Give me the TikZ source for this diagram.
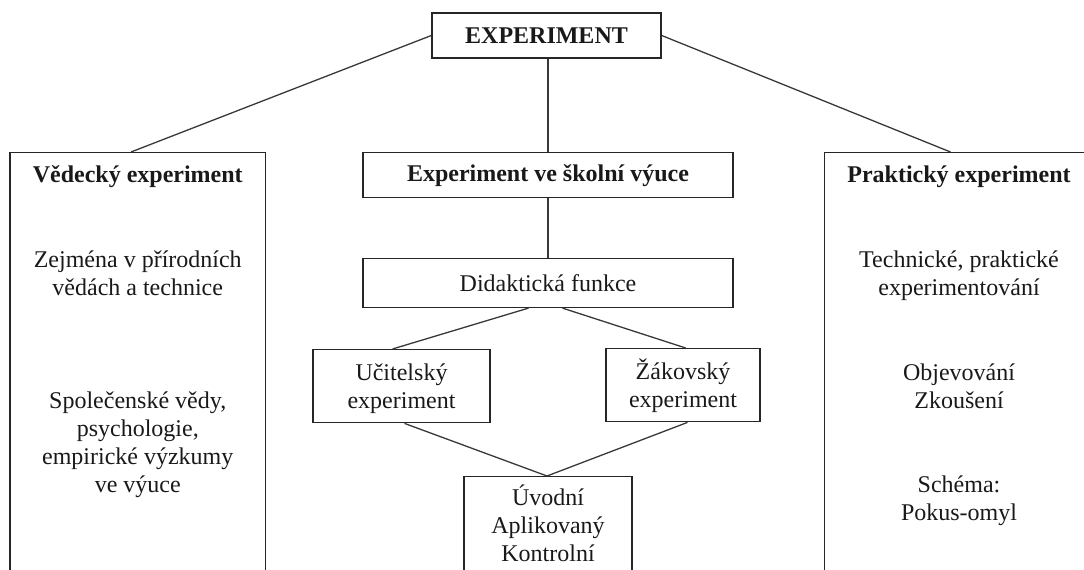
\documentclass[tikz,border=0pt]{standalone}
\usepackage{fontspec}
\setmainfont{Liberation Serif}
\begin{document}
\begin{tikzpicture}[x=1pt,y=-1pt,
  box/.style={draw=black!85, line width=1.4pt, inner sep=0pt, anchor=north, font=\fontsize{24}{28}\selectfont, text=black!90},
  hbox/.style={box, font=\fontsize{24}{28}\selectfont\bfseries},
  link/.style={draw=black!78, line width=1.3pt},
  txt/.style={anchor=base, align=center, inner sep=0pt, font=\fontsize{24}{28}\selectfont, text=black!90},
  head/.style={txt, font=\fontsize{24}{28}\selectfont\bfseries}]
\useasboundingbox (0,0) rectangle (1084,570);
\clip (0,0) rectangle (1084,570);
% boxes
\node[hbox, minimum width=229pt, minimum height=45pt] (exp) at (546.5,12.3) {EXPERIMENT};
\node[box, minimum width=255.5pt, minimum height=450pt] (ved) at (137.75,152) {};
\node[hbox, minimum width=370pt, minimum height=45pt] (sch) at (548,152) {Experiment ve školní výuce};
\node[box, minimum width=269pt, minimum height=450pt] (prak) at (959,152) {};
\node[box, minimum width=370pt, minimum height=48.7pt] (did) at (548,258) {Didaktická funkce};
\node[box, minimum width=177pt, minimum height=73pt] (uc) at (401.5,349) {};
\node[box, minimum width=154pt, minimum height=73pt] (zak) at (683,348) {};
\node[box, minimum width=168pt, minimum height=150pt] (uv) at (548,476) {};
% texts (anchor=base is the baseline of the last line)
\node[head] (vedt) at (137.75,182) {Vědecký experiment};
\node[txt] (ved1) at (137.75,295) {Zejména v přírodních\\vědách a technice};
\node[txt] (ved2) at (137.75,492) {Společenské vědy,\\psychologie,\\empirické výzkumy\\ve výuce};
\node[head] (prakt) at (959,182) {Praktický experiment};
\node[txt] (prak1) at (959,295) {Technické, praktické\\experimentování};
\node[txt] (prak2) at (959,408) {Objevování\\Zkoušení};
\node[txt] (prak3) at (959,520) {Schéma:\\Pokus-omyl};
\node[txt] (uct) at (401.5,408) {Učitelský\\experiment};
\node[txt] (zakt) at (683,407) {Žákovský\\experiment};
\node[txt] (uvt) at (548,561) {Úvodní\\Aplikovaný\\Kontrolní};
% connectors
\draw[link] (exp.west) -- ([xshift=-6.75pt]ved.north);
\draw[link] (exp.east) -- ([xshift=-8.5pt]prak.north);
\draw[link] (sch.north |- exp.south) -- (sch.north);
\draw[link] (sch.south) -- (did.north);
\draw[link] ([xshift=-19.5pt]did.south) -- ([xshift=-9pt]uc.north);
\draw[link] ([xshift=14.5pt]did.south) -- ([xshift=2.7pt]zak.north);
\draw[link] ([xshift=3pt]uc.south) -- ([xshift=-1pt]uv.north);
\draw[link] ([xshift=4.5pt]zak.south) -- ([xshift=-1pt]uv.north);
\end{tikzpicture}
\end{document}
